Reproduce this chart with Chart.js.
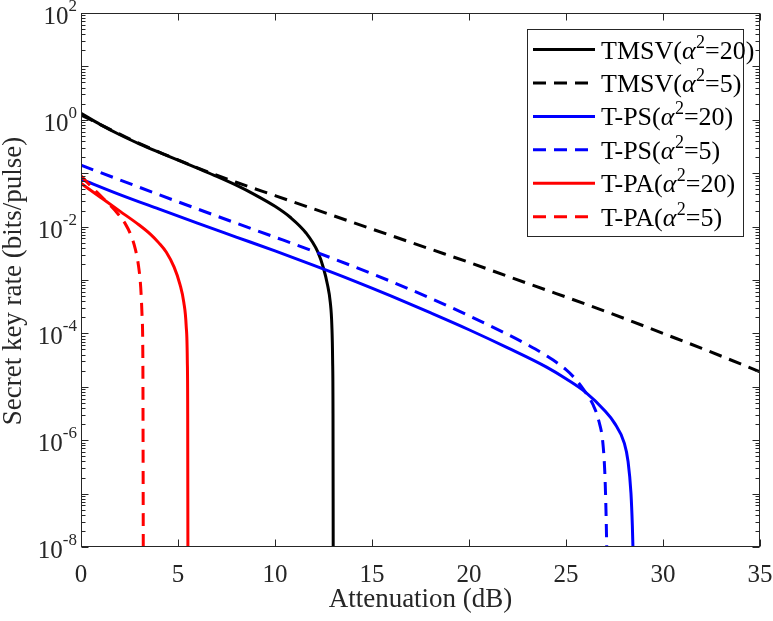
<!DOCTYPE html>
<html><head><meta charset="utf-8">
<script src="https://cdn.jsdelivr.net/npm/chart.js@4/dist/chart.umd.min.js"></script>
<style>html,body{margin:0;padding:0;background:#fff;overflow:hidden}canvas{display:block}</style>
</head><body>
<canvas id="c" width="773" height="621" style="width:773px;height:621px"></canvas>
<script>
// ---- data ----
const xTickValues = [0, 5, 10, 15, 20, 25, 30, 35];
const yTickExponents = [2, 0, -2, -4, -6, -8];
const xTitle = 'Attenuation (dB)';
const yTitle = 'Secret key rate (bits/pulse)';
const seriesLabels = ['TMSV(α²=20)', 'TMSV(α²=5)', 'T-PS(α²=20)', 'T-PS(α²=5)', 'T-PA(α²=20)', 'T-PA(α²=5)'];

const tmsv20X = [0, 1, 2, 3, 4, 5, 6, 7, 8, 9, 10, 10.8, 11.6, 12.2, 12.5, 12.7, 12.85, 12.93, 12.97, 12.99, 13.0];
const tmsv20Y = [1.32, 0.813, 0.525, 0.355, 0.248, 0.176, 0.124, 0.0871, 0.0596, 0.0389, 0.0240, 0.0148, 0.00759, 0.00339, 0.00166, 8.32e-4, 3.80e-4, 1.41e-4, 3.16e-5, 3.16e-6, 1e-8];

const tmsv5X = [0, 1, 2, 3, 4, 5, 6, 8, 10, 12, 14, 16, 18, 20, 22, 24, 26, 28, 30, 32, 35];
const tmsv5Y = [1.23, 0.813, 0.537, 0.363, 0.251, 0.178, 0.126, 0.0676, 0.0380, 0.0214, 0.0120, 0.00676, 0.00380, 0.00214, 0.00117, 6.46e-4, 3.55e-4, 1.91e-4, 1.0e-4, 5.25e-5, 1.91e-5];

const tps20X = [0, 2, 4, 6, 8, 10, 12, 14, 16, 18, 20, 22, 24, 25, 26, 27, 27.5, 28, 28.2, 28.35, 28.42, 28.45];
const tps20Y = [0.0776, 0.0398, 0.0214, 0.0116, 0.00637, 0.00350, 0.00188, 9.86e-4, 4.99e-4, 2.44e-4, 1.17e-4, 5.35e-5, 2.33e-5, 1.41e-5, 7.94e-6, 3.55e-6, 2.09e-6, 8.91e-7, 3.98e-7, 1e-7, 2.51e-8, 1e-8];

const tps5X = [0, 2, 4, 6, 8, 10, 12, 14, 16, 18, 20, 22, 23, 24, 25, 25.5, 26, 26.4, 26.7, 26.9, 27.0, 27.06, 27.1];
const tps5Y = [0.141, 0.0750, 0.0398, 0.0214, 0.0116, 0.00634, 0.00344, 0.00182, 9.33e-4, 4.57e-4, 2.14e-4, 9.55e-5, 6.17e-5, 3.80e-5, 2.09e-5, 1.38e-5, 7.94e-6, 4.57e-6, 2.24e-6, 8.91e-7, 2.51e-7, 5.01e-8, 1e-8];

const tpa20X = [0, 1, 2, 3, 3.6, 4, 4.4, 4.8, 5.1, 5.3, 5.42, 5.48, 5.5, 5.51];
const tpa20Y = [0.0646, 0.0355, 0.0195, 0.0107, 0.00708, 0.00501, 0.00331, 0.00174, 8.32e-4, 3.80e-4, 1.41e-4, 3.16e-5, 3.16e-6, 1e-8];

const tpa5X = [0, 0.5, 1, 1.5, 1.9, 2.3, 2.55, 2.8, 2.97, 3.08, 3.15, 3.19, 3.21];
const tpa5Y = [0.0891, 0.0575, 0.0380, 0.0251, 0.0174, 0.0110, 0.00724, 0.00380, 0.00178, 7.08e-4, 2.0e-4, 2.51e-5, 1e-8];

// ---- build chart ----
const pts = (xs, ys) => xs.map((x, i) => ({x: x, y: ys[i]}));
const FONT = '"Liberation Serif", "Times New Roman", serif';
const AX = '#262626';
const DASH = [13, 8];

function mk(label, xs, ys, color, dashed, order) {
  return {
    label: label, data: pts(xs, ys), borderColor: color, backgroundColor: color,
    borderWidth: 3, borderDash: dashed ? DASH : [], pointRadius: 0, order: order,
    fill: false, cubicInterpolationMode: 'monotone', borderCapStyle: 'butt'
  };
}

const datasets = [
  mk(seriesLabels[0], tmsv20X, tmsv20Y, '#000000', false, 6),
  mk(seriesLabels[1], tmsv5X, tmsv5Y, '#000000', true, 5),
  mk(seriesLabels[2], tps20X, tps20Y, '#0000FF', false, 4),
  mk(seriesLabels[3], tps5X, tps5Y, '#0000FF', true, 3),
  mk(seriesLabels[4], tpa20X, tpa20Y, '#FF0000', false, 2),
  mk(seriesLabels[5], tpa5X, tpa5Y, '#FF0000', true, 1)
];

function drawRich(ctx, label, x, y, size) {
  // "TMSV(" + italic alpha + superscript 2 + "=20)"
  const parts = label.split('α²');
  ctx.textBaseline = 'alphabetic';
  ctx.textAlign = 'left';
  ctx.font = size + 'px ' + FONT;
  ctx.fillText(parts[0], x, y);
  x += ctx.measureText(parts[0]).width;
  ctx.font = 'italic ' + size + 'px ' + FONT;
  ctx.fillText('α', x, y);
  x += ctx.measureText('α').width + 0.5;
  const ss = Math.round(size * 0.68);
  ctx.font = ss + 'px ' + FONT;
  ctx.fillText('2', x, y - size * 0.42);
  x += ctx.measureText('2').width;
  ctx.font = size + 'px ' + FONT;
  ctx.fillText(parts[1], x, y);
}

const matlabAxes = {
  id: 'matlabAxes',
  afterDatasetsDraw(chart) {
    const ctx = chart.ctx, a = chart.chartArea;
    const xs = chart.scales.x, ys = chart.scales.y;
    ctx.save();
    ctx.strokeStyle = AX; ctx.lineWidth = 1; ctx.setLineDash([]);
    const L = Math.round(a.left) + 0.5, R = Math.round(a.right) - 0.5;
    const T = Math.round(a.top) + 0.5, B = Math.round(a.bottom) - 0.5;
    ctx.beginPath();
    xTickValues.forEach(v => {
      const px = Math.round(xs.getPixelForValue(v)) + 0.5;
      ctx.moveTo(px, B); ctx.lineTo(px, B - 7);
      ctx.moveTo(px, T); ctx.lineTo(px, T + 7);
    });
    for (let e = -8; e <= 2; e++) {
      const py = Math.round(ys.getPixelForValue(Math.pow(10, e))) + 0.5;
      ctx.moveTo(L, py); ctx.lineTo(L + 7, py);
      ctx.moveTo(R, py); ctx.lineTo(R - 7, py);
      if (e < 2) {
        for (let m = 2; m <= 9; m++) {
          const q = Math.round(ys.getPixelForValue(m * Math.pow(10, e))) + 0.5;
          ctx.moveTo(L, q); ctx.lineTo(L + 4, q);
          ctx.moveTo(R, q); ctx.lineTo(R - 4, q);
        }
      }
    }
    ctx.stroke();
    ctx.strokeRect(L, T, R - L, B - T);

    // x tick labels
    ctx.fillStyle = AX;
    ctx.font = '25px ' + FONT;
    ctx.textAlign = 'center'; ctx.textBaseline = 'middle';
    xTickValues.forEach(v => {
      ctx.fillText(String(v), xs.getPixelForValue(v), a.bottom + 28);
    });
    // y tick labels 10^e
    yTickExponents.forEach(e => {
      const py = ys.getPixelForValue(Math.pow(10, e));
      const exp = String(e);
      ctx.font = '17px ' + FONT;
      const ew = ctx.measureText(exp).width;
      ctx.font = '25px ' + FONT;
      const bw = ctx.measureText('10').width;
      const right = a.left - 4;
      ctx.textAlign = 'left'; ctx.textBaseline = 'alphabetic';
      ctx.fillText('10', right - ew - bw, py + 11);
      ctx.font = '17px ' + FONT;
      ctx.fillText(exp, right - ew, py - 2);
    });
    // axis titles
    ctx.font = '27px ' + FONT;
    ctx.textAlign = 'center'; ctx.textBaseline = 'middle';
    ctx.fillText(xTitle, (a.left + a.right) / 2, a.bottom + 53);
    ctx.save();
    ctx.translate(14, 281);
    ctx.rotate(-Math.PI / 2);
    ctx.fillText(yTitle, 0, 0);
    ctx.restore();

    // legend
    const lx = 527.5, ly = 29.5, lw = 216, lh = 207;
    ctx.fillStyle = '#ffffff';
    ctx.fillRect(lx, ly, lw, lh);
    ctx.strokeStyle = AX; ctx.lineWidth = 1;
    ctx.strokeRect(lx, ly, lw, lh);
    chart.data.datasets.forEach((ds, i) => {
      const cy = 49.5 + i * 33.45;
      ctx.strokeStyle = ds.borderColor; ctx.lineWidth = ds.borderWidth;
      ctx.setLineDash(ds.borderDash || []);
      ctx.beginPath(); ctx.moveTo(533, cy); ctx.lineTo(595, cy); ctx.stroke();
      ctx.setLineDash([]);
      ctx.fillStyle = '#000000';
      drawRich(ctx, ds.label, 601, cy + 9, 26);
    });
    ctx.restore();
  }
};

new Chart(document.getElementById('c'), {
  type: 'line',
  data: { datasets: datasets },
  options: {
    responsive: false, animation: false, devicePixelRatio: 1,
    layout: { padding: { left: 81, right: 13, top: 13, bottom: 74 } },
    plugins: { legend: { display: false }, tooltip: { enabled: false } },
    scales: {
      x: { type: 'linear', min: 0, max: 35, display: false },
      y: { type: 'logarithmic', min: 1e-8, max: 100, display: false }
    }
  },
  plugins: [matlabAxes]
});
</script>
</body></html>
